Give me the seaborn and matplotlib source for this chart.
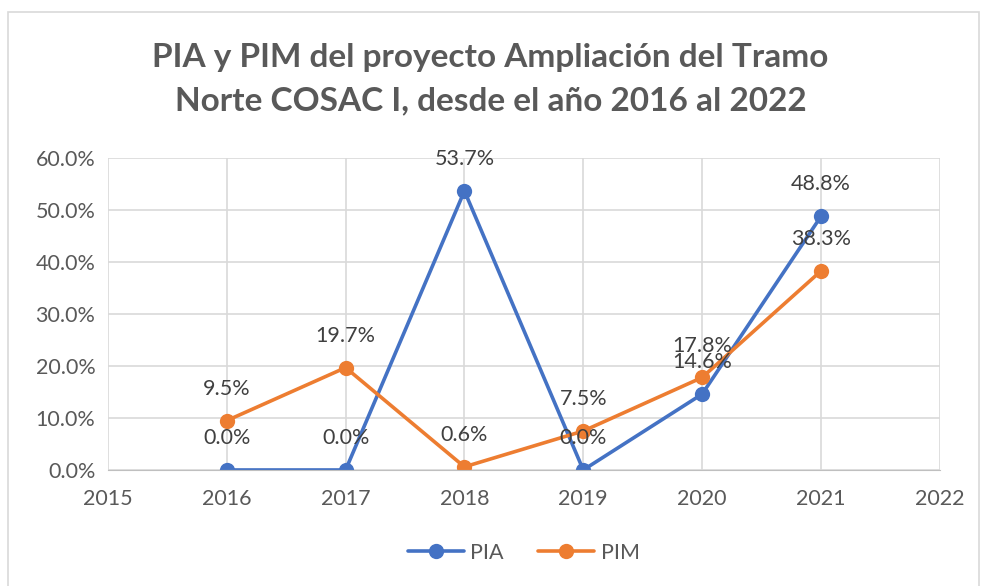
import numpy as np
import pandas as pd
import seaborn as sns
import matplotlib.pyplot as plt
from matplotlib.patches import Rectangle

years = [2016, 2017, 2018, 2019, 2020, 2021]
pia = [0.0, 0.0, 53.7, 0.0, 14.6, 48.8]
pim = [9.5, 19.7, 0.6, 7.5, 17.8, 38.3]
series = ["PIA", "PIM"]
colors = ["#4472C4", "#ED7D31"]

df = pd.DataFrame({
    "year": years * 2,
    "value": pia + pim,
    "serie": ["PIA"] * len(years) + ["PIM"] * len(years),
})

sns.set_style("white")
plt.rcParams['font.family'] = ['Lato', 'DejaVu Sans']
gray = "#595959"

fig = plt.figure(figsize=(9.81, 5.86), dpi=100)
ax = fig.add_axes([0.110, 0.198, 0.848, 0.532])

sns.lineplot(data=df, x="year", y="value", hue="serie", palette=colors,
             hue_order=series, marker="o", markersize=11, markeredgewidth=0,
             linewidth=2.6, ax=ax, legend=True)

for name, vals in zip(series, [pia, pim]):
    for x, y in zip(years, vals):
        ax.annotate(f"{y:.1f}%", (x, y), xytext=(0, 23), textcoords="offset points",
                    ha="center", va="center", fontsize=15.5, color="#404040")

ax.set_xlim(2015, 2022)
ax.set_ylim(0, 60)
ax.set_xticks(range(2015, 2023))
ax.set_yticks(np.arange(0, 61, 10))
ax.set_yticklabels([f"{v:.1f}%" for v in range(0, 61, 10)])
ax.tick_params(axis="both", labelsize=15.5, labelcolor=gray, length=0)
ax.tick_params(axis="x", pad=14)
ax.tick_params(axis="y", pad=9)
ax.grid(True, color="#D9D9D9", linewidth=1.2)
for s in ["top", "right", "left"]:
    ax.spines[s].set_visible(False)
ax.spines["bottom"].set_color("#BFBFBF")
ax.set_xlabel("")
ax.set_ylabel("")

handles, labels = ax.get_legend_handles_labels()
ax.legend(handles, labels, loc="center", bbox_to_anchor=(0.5, -0.265), ncol=2,
          frameon=False, fontsize=15.5, labelcolor=gray, handlelength=2.6,
          columnspacing=1.6, handletextpad=0.3)

fig.suptitle("PIA y PIM del proyecto Ampliación del Tramo\nNorte COSAC I, desde el año 2016 al 2022",
             x=0.5, y=0.927, fontsize=24, fontweight="bold", color=gray, linespacing=1.6)

fig.patches.append(Rectangle((0.008, -0.01), 0.99, 0.99, transform=fig.transFigure,
                             fill=False, edgecolor="#D9D9D9", linewidth=1.2))

fig.savefig("out.png", dpi=100)
